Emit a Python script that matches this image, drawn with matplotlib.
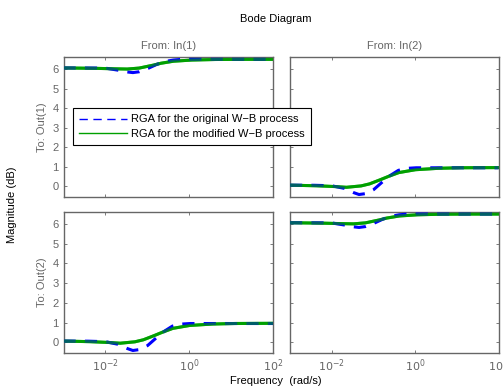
import numpy as np
import matplotlib
matplotlib.use("Agg")
import matplotlib.pyplot as plt
from matplotlib.lines import Line2D

plt.rcParams['font.family'] = ['Liberation Sans', 'DejaVu Sans']

# log10 of frequency (rad/s) and magnitude (dB)
diag_orig_logw = [-3.0, -2.5, -2.0, -1.7, -1.5, -1.35, -1.2, -1.0, -0.8, -0.6, -0.4, -0.2, 0.0, 1.0, 2.0]
diag_orig_db = [6.06, 6.06, 6.05, 5.95, 5.86, 5.82, 5.86, 6.02, 6.22, 6.38, 6.46, 6.5, 6.5, 6.5, 6.5]
diag_mod_logw = [-3.0, -2.5, -2.0, -1.5, -1.2, -0.9, -0.7, -0.4, 0.0, 0.5, 1.0, 2.0]
diag_mod_db = [6.06, 6.05, 6.03, 6.0, 6.05, 6.18, 6.29, 6.4, 6.46, 6.49, 6.5, 6.5]

off_orig_logw = [-3.0, -2.5, -2.0, -1.7, -1.5, -1.35, -1.2, -1.0, -0.8, -0.6, -0.4, -0.2, 0.0, 1.0, 2.0]
off_orig_db = [0.06, 0.06, 0.03, -0.1, -0.3, -0.42, -0.38, -0.18, 0.2, 0.55, 0.82, 0.92, 0.95, 0.95, 0.95]
off_mod_logw = [-3.0, -2.5, -2.0, -1.65, -1.3, -1.1, -0.9, -0.7, -0.4, 0.0, 0.5, 1.0, 2.0]
off_mod_db = [0.06, 0.04, 0.0, -0.05, 0.02, 0.12, 0.28, 0.46, 0.7, 0.85, 0.92, 0.95, 0.96]

col_labels = ["From: In(1)", "From: In(2)"]
row_labels = ["To: Out(1)", "To: Out(2)"]
legend_labels = ["RGA for the original W\u2212B process", "RGA for the modified W\u2212B process"]
yticks = [0, 1, 2, 3, 4, 5, 6]
xticks = [1e-2, 1e0, 1e2]

gray = "#666666"
blue = "#0000ff"
green = "#00a000"

fig = plt.figure(figsize=(5.03, 3.88), dpi=100)
W, H = 503.0, 388.0
xs = [(63.5, 273.0), (290.0, 498.5)]
ys = [(57.0, 196.7), (211.7, 352.7)]


def smooth(lw, db):
    x = np.linspace(lw[0], lw[-1], 300)
    return 10 ** x, np.interp(x, lw, db)


for r in range(2):
    for c in range(2):
        x0, x1 = xs[c]
        y0, y1 = ys[r]
        ax = fig.add_axes([x0 / W, (H - y1) / H, (x1 - x0) / W, (y1 - y0) / H])
        if r == c:
            o = smooth(diag_orig_logw, diag_orig_db)
            m = smooth(diag_mod_logw, diag_mod_db)
        else:
            o = smooth(off_orig_logw, off_orig_db)
            m = smooth(off_mod_logw, off_mod_db)
        ax.plot(m[0], m[1], color=green, lw=2.2, zorder=2)
        ax.plot(o[0], o[1], color=blue, lw=2.2, ls=(0, (4, 3)), zorder=3)
        ax.plot(m[0], m[1], color=green, lw=2.2, alpha=0.6, zorder=4)
        ax.set_xscale("log")
        ax.set_xlim(1e-3, 1e2)
        ax.set_ylim(-0.53, 6.62)
        ax.set_xticks(xticks)
        ax.minorticks_off()
        ax.set_yticks(yticks)
        ax.tick_params(direction="in", length=2.5, width=0.6, color=gray,
                       labelcolor=gray, labelsize=8, top=True, right=True)
        for s in ax.spines.values():
            s.set_color(gray)
            s.set_linewidth(1.0)
        if r == 0:
            ax.set_xticklabels([])
            ax.set_title(col_labels[c], color=gray, fontsize=8, pad=6)
        else:
            ax.set_xticklabels(["$10^{-2}$", "$10^{0}$", "$10^{2}$"])
        if c == 1:
            ax.set_yticklabels([])
        else:
            ax.set_ylabel(row_labels[r], color=gray, fontsize=8, labelpad=4)

fig.text(276 / W, 1 - 19 / H, "Bode Diagram", ha="center", va="center", fontsize=8)
fig.text(276 / W, 1 - 381 / H, "Frequency  (rad/s)", ha="center", va="center", fontsize=8)
fig.text(12 / W, 1 - 205 / H, "Magnitude (dB)", ha="center", va="center",
         rotation=90, fontsize=8)

handles = [Line2D([], [], color=blue, lw=1.0, ls=(0, (6, 4))),
           Line2D([], [], color=green, lw=1.0)]
leg = fig.legend(handles, legend_labels, loc="upper left",
                 bbox_to_anchor=(72.7 / W, 1 - 108.3 / H), fontsize=8,
                 frameon=True, fancybox=False, framealpha=1, edgecolor="black",
                 handlelength=4.3, borderpad=0.55, labelspacing=0.4,
                 handletextpad=0.4, borderaxespad=0)
leg.get_frame().set_linewidth(0.8)
leg.set_zorder(10)

fig.savefig("out.png", dpi=100)
